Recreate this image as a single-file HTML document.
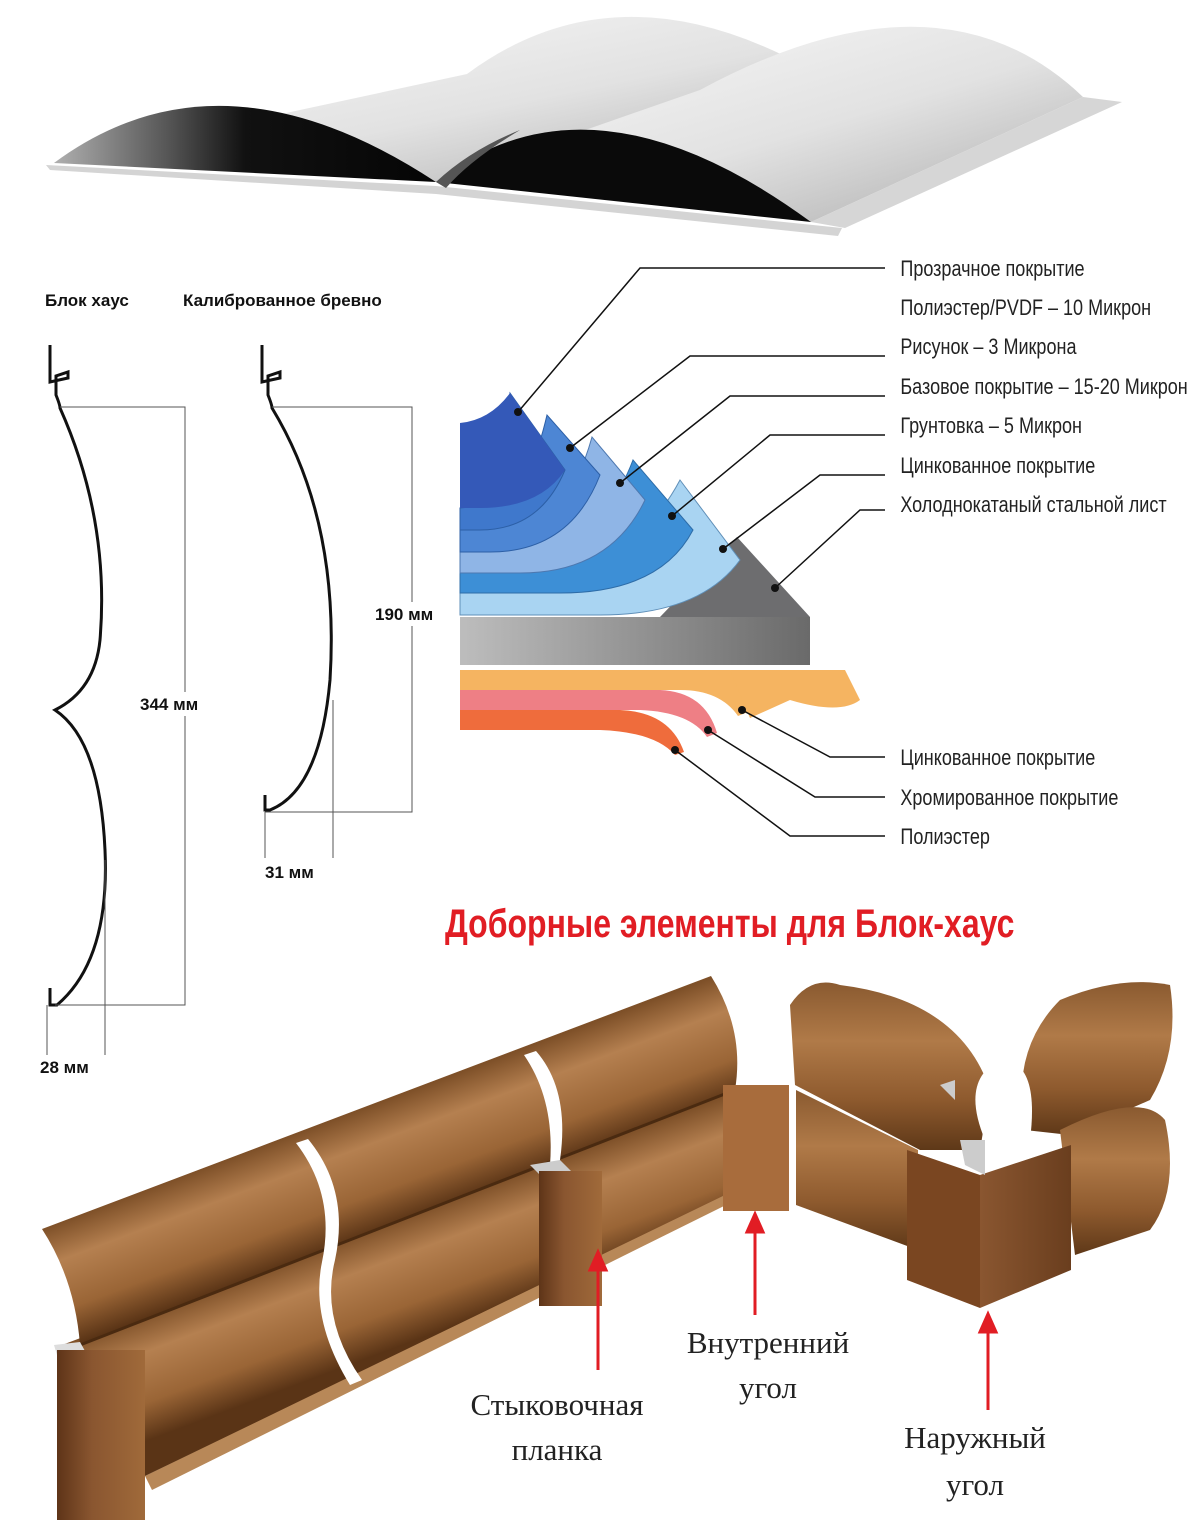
<!DOCTYPE html>
<html><head><meta charset="utf-8"><style>
body{margin:0;background:#fff;width:1200px;height:1522px;overflow:hidden}
svg{display:block}
.s{font-family:"Liberation Sans Narrow","Liberation Sans","DejaVu Sans",sans-serif;font-size:22px;fill:#222}
.b{font-family:"Liberation Sans",sans-serif;font-weight:bold;font-size:17px;fill:#111}
.r{font-family:"Liberation Serif","DejaVu Serif",serif;font-size:31px;fill:#222}
</style></head><body>
<svg width="1200" height="1522" viewBox="0 0 1200 1522" xmlns="http://www.w3.org/2000/svg">
<defs>
<linearGradient id="pan" x1="0" y1="0" x2="1" y2="1"><stop offset="0" stop-color="#fbfbfb"/><stop offset="0.55" stop-color="#e2e2e2"/><stop offset="1" stop-color="#a9a9a9"/></linearGradient>
<linearGradient id="inn" x1="0" y1="0" x2="1" y2="0"><stop offset="0" stop-color="#b0b0b0"/><stop offset="0.3" stop-color="#555"/><stop offset="0.5" stop-color="#111"/><stop offset="1" stop-color="#050505"/></linearGradient>
<linearGradient id="grey" x1="0" y1="0" x2="1" y2="0"><stop offset="0" stop-color="#bdbdbd"/><stop offset="1" stop-color="#6a6a6a"/></linearGradient>
<linearGradient id="wood" x1="0" y1="0" x2="0" y2="1"><stop offset="0" stop-color="#8a5a30"/><stop offset="0.35" stop-color="#b07a48"/><stop offset="0.7" stop-color="#8e5a2e"/><stop offset="1" stop-color="#5e3818"/></linearGradient>
<linearGradient id="wU" gradientUnits="userSpaceOnUse" x1="42" y1="1229" x2="84" y2="1341"><stop offset="0" stop-color="#7e5028"/><stop offset="0.3" stop-color="#b58050"/><stop offset="0.7" stop-color="#9a6536"/><stop offset="1" stop-color="#5a3416"/></linearGradient>
<linearGradient id="wL" gradientUnits="userSpaceOnUse" x1="62" y1="1345" x2="104" y2="1457"><stop offset="0" stop-color="#7e5028"/><stop offset="0.3" stop-color="#b58050"/><stop offset="0.7" stop-color="#9a6536"/><stop offset="1" stop-color="#5a3416"/></linearGradient>
<linearGradient id="wood2" x1="0" y1="0" x2="1" y2="0"><stop offset="0" stop-color="#8a5630"/><stop offset="1" stop-color="#6a3e1e"/></linearGradient>
<linearGradient id="wood3" x1="0" y1="0" x2="1" y2="0"><stop offset="0" stop-color="#5e3418"/><stop offset="0.4" stop-color="#8a5630"/><stop offset="1" stop-color="#a06a3a"/></linearGradient>
</defs>
<!-- top panel -->
<path d="M46,165 L436,186 L842,228 L838,236 L436,194 L50,170 Z" fill="#d4d4d4"/>
<path d="M54,163 Q220,40 436,182 L849,93 Q633,-49 467,74 Z" fill="url(#pan)"/>
<path d="M54,163 Q220,40 436,182 Z" fill="url(#inn)"/>
<path d="M436,182 Q590,60 811,222 L1083,97 Q940,-40 700,90 Z" fill="url(#pan)"/>
<path d="M436,182 Q590,60 811,222 Z" fill="#0a0a0a"/>
<path d="M436,182 Q470,150 520,130 Q470,160 446,188 Z" fill="#555"/>
<polygon points="811,222 1083,97 1122,102 845,228" fill="#d6d6d6"/>
<!-- profile labels -->
<text class="b" x="45" y="306">Блок хаус</text>
<text class="b" x="183" y="306">Калиброванное бревно</text>
<!-- profile 1 -->
<path d="M50,345 V382 L68,378 V372 L56,376 V395 Q60,405 60,408 Q110,520 100,640 Q95,690 55,710 Q100,740 105,850 Q110,960 57,1005 L50,1005 V988" fill="none" stroke="#111" stroke-width="3"/>
<path d="M60,407 H185 V1005 H55 M47,1005 V1055 M105,860 V1055" fill="none" stroke="#555" stroke-width="1"/>
<rect x="130" y="692" width="100" height="24" fill="#fff"/>
<text class="b" x="140" y="710">344 мм</text>
<text class="b" x="40" y="1073">28 мм</text>
<!-- profile 2 -->
<path d="M262,345 V382 L280,378 V372 L268,376 V395 Q272,405 272,408 Q340,520 330,680 Q320,790 270,810 L265,810 V795" fill="none" stroke="#111" stroke-width="3"/>
<path d="M272,407 H412 V812 H265 M265,812 V858 M333,700 V858" fill="none" stroke="#555" stroke-width="1"/>
<rect x="372" y="602" width="82" height="24" fill="#fff"/>
<text class="b" x="375" y="620">190 мм</text>
<text class="b" x="265" y="878">31 мм</text>
<!-- layered diagram -->
<polygon points="660,617 737,537 810,617" fill="#6d6d6f"/>
<rect x="460" y="617" width="350" height="48" fill="url(#grey)"/>
<path d="M460,593 Q620,593 680,480 L740,560 Q700,615 600,615 L460,615 Z" fill="#a9d4f2" stroke="#5f8fb8" stroke-width="1"/>
<path d="M460,573 Q590,573 633,460 L693,530 Q660,593 560,593 L460,593 Z" fill="#3d8fd6" stroke="#2d6ca8" stroke-width="1"/>
<path d="M460,552 Q560,552 592,437 L645,500 Q610,573 520,573 L460,573 Z" fill="#8fb5e6" stroke="#4d78b0" stroke-width="1"/>
<path d="M460,530 Q520,530 547,415 L600,475 Q570,552 490,552 L460,552 Z" fill="#4d86d4" stroke="#2c5fa6" stroke-width="1"/>
<path d="M460,508 Q500,508 510,393 L565,470 Q540,530 480,530 L460,530 Z" fill="#3f78cc" stroke="#2c5fa6" stroke-width="1"/>
<path d="M460,423 Q490,420 510,393 L565,470 Q540,508 480,508 L460,508 Z" fill="#3459b8"/>
<path d="M460,670 H730 Q745,675 748,712 L738,716 Q720,690 680,690 L460,690Z" fill="#f5b461"/>
<path d="M730,670 H845 L860,700 Q840,715 790,700 L750,718 Z" fill="#f5b461"/>
<path d="M460,690 H660 Q705,692 717,733 L707,737 Q690,712 640,710 L460,710Z" fill="#ee7f85"/>
<path d="M460,710 H620 Q670,712 684,752 L675,755 Q655,732 600,730 L460,730Z" fill="#ef6c3c"/>
<g stroke="#111" stroke-width="1.5" fill="none">
<path d="M885,268 H640 L518,412"/><path d="M885,356 H690 L570,448"/><path d="M885,396 H730 L620,483"/>
<path d="M885,435 H770 L672,516"/><path d="M885,475 H820 L723,549"/><path d="M885,510 H860 L775,588"/>
<path d="M742,710 L830,757 H885"/><path d="M708,730 L815,797 H885"/><path d="M675,750 L790,836 H885"/>
</g>
<g fill="#111"><circle cx="518" cy="412" r="4"/><circle cx="570" cy="448" r="4"/><circle cx="620" cy="483" r="4"/><circle cx="672" cy="516" r="4"/><circle cx="723" cy="549" r="4"/><circle cx="775" cy="588" r="4"/><circle cx="742" cy="710" r="4"/><circle cx="708" cy="730" r="4"/><circle cx="675" cy="750" r="4"/></g>
<g class="s" transform="scale(0.82,1)">
<text x="1098" y="276">Прозрачное покрытие</text>
<text x="1098" y="315">Полиэстер/PVDF – 10 Микрон</text>
<text x="1098" y="354">Рисунок – 3 Микрона</text>
<text x="1098" y="394">Базовое покрытие – 15-20 Микрон</text>
<text x="1098" y="433">Грунтовка – 5 Микрон</text>
<text x="1098" y="473">Цинкованное покрытие</text>
<text x="1098" y="512">Холоднокатаный стальной лист</text>
<text x="1098" y="765">Цинкованное покрытие</text>
<text x="1098" y="805">Хромированное покрытие</text>
<text x="1098" y="844">Полиэстер</text>
</g>
<text x="445" y="937" transform="translate(445,0) scale(0.8,1) translate(-445,0)" font-family="Liberation Sans" font-weight="bold" font-size="40" fill="#e11d24">Доборные элементы для Блок-хаус</text>
<!-- logs left wall -->
<path d="M145,1476 L723,1193 L726,1205 L152,1490Z" fill="#b88858"/>
<path d="M62,1345 L735,1090 L725,1195 L145,1476 Q130,1400 62,1345Z" fill="url(#wL)"/>
<path d="M42,1229 L711,976 Q745,1030 735,1090 L80,1345 Q75,1280 42,1229Z" fill="url(#wU)"/>
<path d="M80,1345 L735,1090" stroke="#4a2a10" stroke-width="3"/>
<path d="M308,1139 Q350,1190 335,1260 Q320,1320 362,1380 L350,1385 Q310,1320 322,1262 Q336,1195 296,1143Z" fill="#fff"/>
<path d="M536,1051 Q570,1090 560,1160 L550,1165 Q555,1100 524,1055Z" fill="#fff"/>
<polygon points="54,1345 80,1342 90,1360 60,1365" fill="#ddd"/>
<rect x="57" y="1350" width="88" height="170" fill="url(#wood3)"/>
<polygon points="530,1165 560,1160 575,1175 545,1180" fill="#ccc"/>
<rect x="539" y="1171" width="63" height="135" fill="url(#wood3)"/>
<!-- right wall -->
<path d="M796,1090 L918,1150 L918,1250 L796,1205Z" fill="url(#wood)"/>
<path d="M790,1005 Q810,975 840,985 Q960,1000 990,1090 L980,1150 L920,1150 L795,1085Z" fill="url(#wood)"/>
<path d="M1025,1130 Q1010,1050 1060,1000 Q1120,975 1170,985 Q1180,1050 1150,1100 L1070,1135Z" fill="url(#wood)"/>
<path d="M1060,1130 Q1140,1090 1165,1120 Q1180,1190 1150,1230 L1075,1255 Z" fill="url(#wood)"/>
<path d="M985,1140 Q960,1080 1000,1060 Q1040,1060 1030,1140Z" fill="#fff"/>
<polygon points="940,1085 955,1080 955,1100" fill="#ccc"/>
<rect x="723" y="1085" width="66" height="126" fill="#a86c3c"/>
<polygon points="907,1150 980,1175 980,1308 907,1280" fill="#7a4621"/>
<polygon points="980,1175 1071,1145 1071,1270 980,1308" fill="url(#wood2)"/>
<polygon points="960,1140 985,1140 985,1175 965,1165" fill="#ccc"/>
<!-- arrows -->
<g stroke="#e11d24" stroke-width="3" fill="#e11d24">
<line x1="598" y1="1370" x2="598" y2="1268"/><polygon points="590,1270 606,1270 598,1252"/>
<line x1="755" y1="1315" x2="755" y2="1230"/><polygon points="747,1232 763,1232 755,1214"/>
<line x1="988" y1="1410" x2="988" y2="1330"/><polygon points="980,1332 996,1332 988,1314"/>
</g>
<text class="r" x="768" y="1353" text-anchor="middle">Внутренний</text>
<text class="r" x="768" y="1398" text-anchor="middle">угол</text>
<text class="r" x="557" y="1415" text-anchor="middle">Стыковочная</text>
<text class="r" x="557" y="1460" text-anchor="middle">планка</text>
<text class="r" x="975" y="1448" text-anchor="middle">Наружный</text>
<text class="r" x="975" y="1495" text-anchor="middle">угол</text>
</svg>
</body></html>
